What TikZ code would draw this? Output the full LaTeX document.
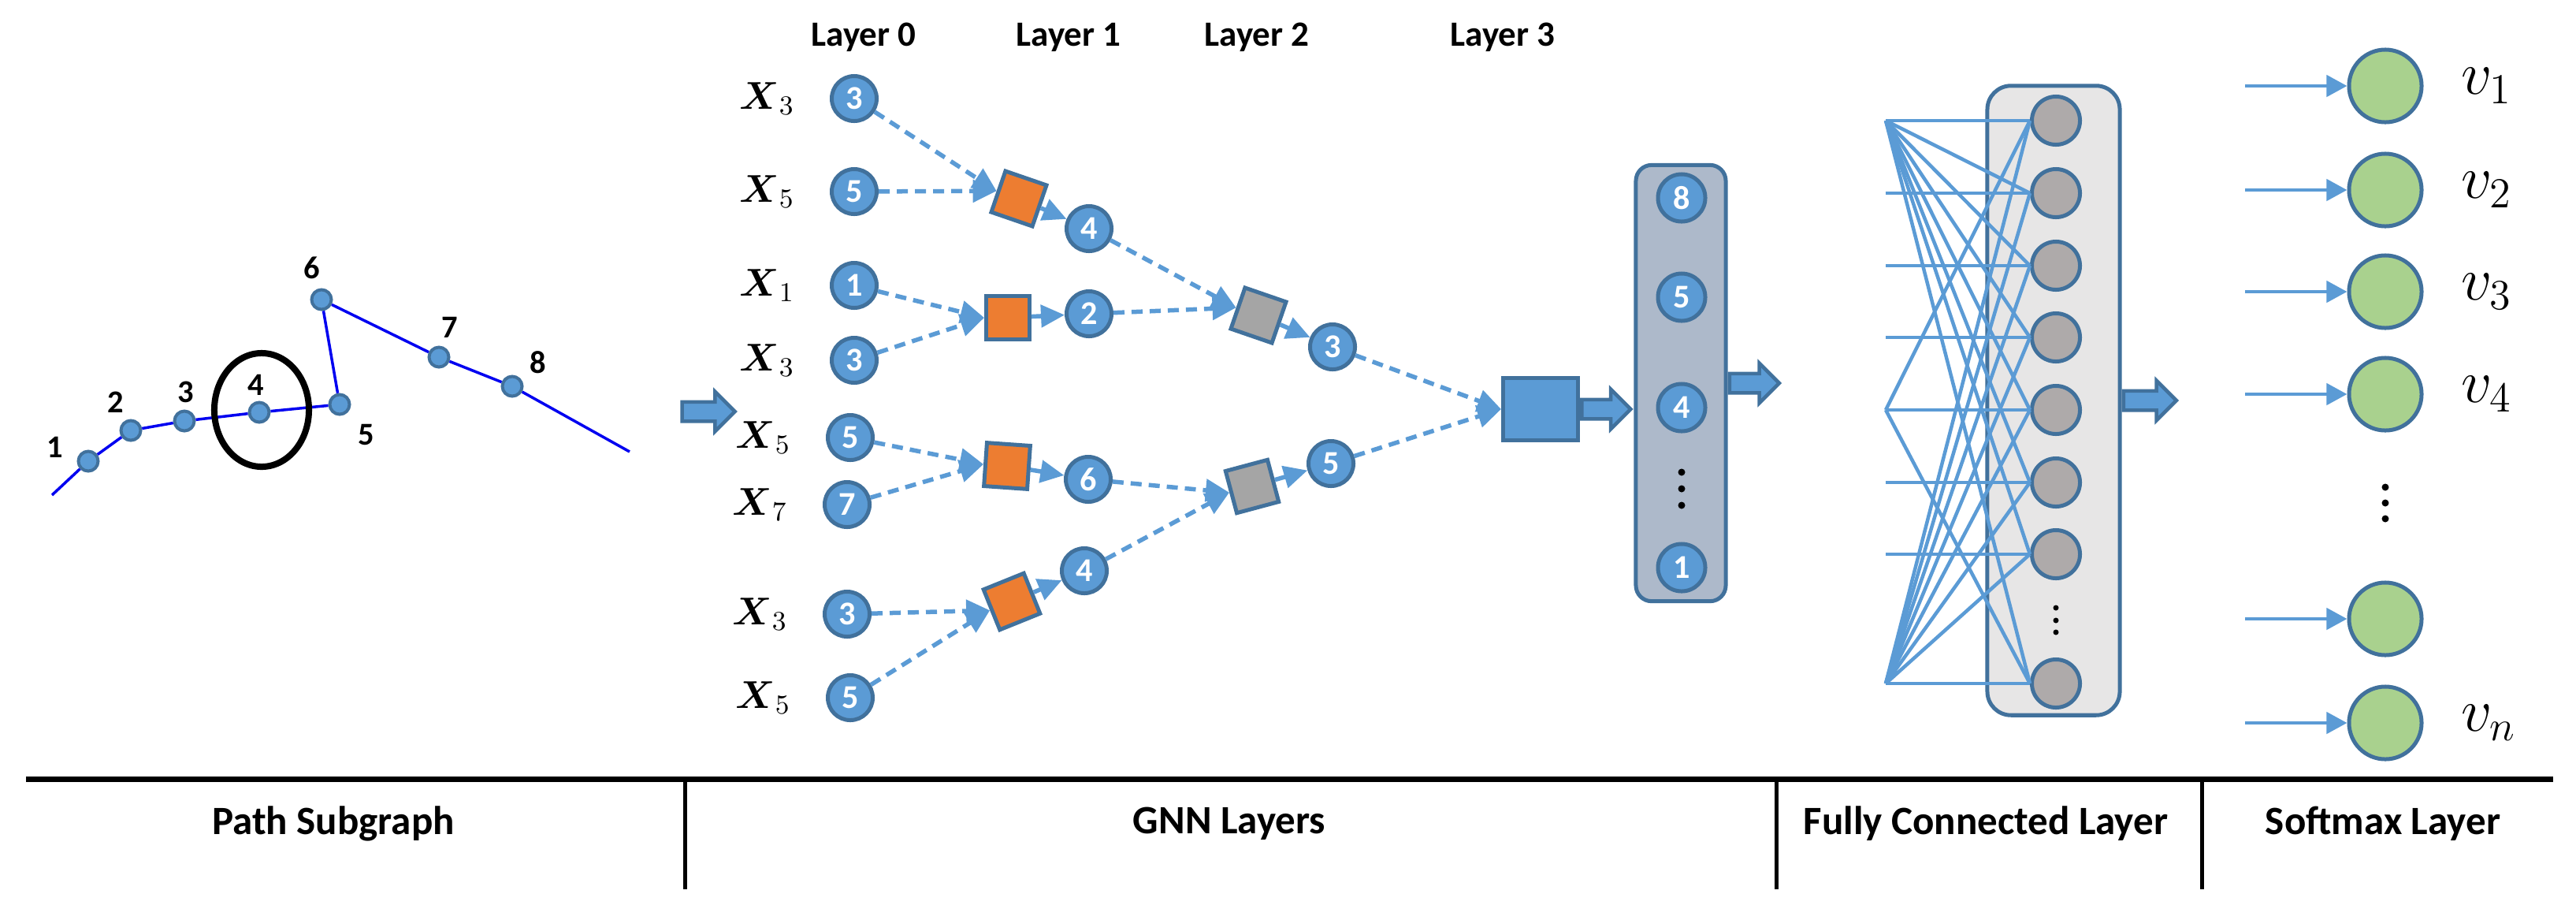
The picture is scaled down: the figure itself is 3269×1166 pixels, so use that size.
\RequirePackage{fix-cm}
\documentclass[tikz,border=0pt]{standalone}
\usepackage{amsmath}
\usepackage[no-math]{fontspec}
\setmainfont{Carlito}
\usetikzlibrary{arrows.meta,shapes.arrows,positioning}
\definecolor{nblue}{HTML}{5B9BD5}
\definecolor{nedge}{HTML}{41719C}
\definecolor{norange}{HTML}{ED7D31}
\definecolor{ngray}{HTML}{A5A5A5}
\definecolor{fcgray}{HTML}{AEAAAA}
\definecolor{colfill}{HTML}{ADB9CA}
\definecolor{fcfill}{HTML}{E7E6E6}
\definecolor{ngreen}{HTML}{A9D18E}
\definecolor{pathblue}{HTML}{0000F0}

\begin{document}
\begin{tikzpicture}[x=0.01cm, y=-0.01cm,
            num/.style={circle, draw=nedge, fill=nblue, line width=0.05cm, minimum size=0.57cm, inner sep=0pt, text=white, font=\fontsize{12}{14}\selectfont\bfseries},
            pnode/.style={circle, draw=nedge, fill=nblue, line width=0.04cm, minimum size=0.25cm, inner sep=0pt},
            plabel/.style={font=\fontsize{11.5}{13}\selectfont\bfseries},
            agg/.style={rectangle, draw=nedge, line width=0.05cm, minimum size=0.55cm, inner sep=0pt},
            xlab/.style={inner sep=0pt, font=\fontsize{14}{16}\selectfont},
            vlab/.style={inner sep=0pt, font=\fontsize{22}{26}\selectfont},
            layertext/.style={font=\fontsize{12.8}{15}\selectfont\bfseries},
            captext/.style={font=\fontsize{14.5}{17}\selectfont\bfseries},
            dflow/.style={->, >={Triangle[length=0.3cm, width=0.28cm]}, draw=nblue, line width=0.055cm, dash pattern=on 0.14cm off 0.09cm},
            sflow/.style={->, >={Triangle[length=0.26cm, width=0.27cm]}, draw=nblue, line width=0.045cm},
            fcline/.style={draw=nblue, line width=0.045cm},
            blockarr/.style={single arrow, draw=nedge, fill=nblue, line width=0.045cm, text height=0.2cm, text depth=0pt, minimum width=0.5cm, single arrow head extend=0.13cm, inner sep=0pt},
            dotn/.style={circle, fill=black, minimum size=0.09cm, inner sep=0pt}]
            \useasboundingbox (0,0) rectangle (3269,1166);

            \node[pnode] (p1) at (112,585) {};
            \node[pnode] (p2) at (166,546) {};
            \node[pnode] (p3) at (234,534) {};
            \node[pnode] (p4) at (329,523) {};
            \node[pnode] (p5) at (431,513) {};
            \node[pnode] (p6) at (408,380) {};
            \node[pnode] (p7) at (557,453) {};
            \node[pnode] (p8) at (650,490) {};
            \coordinate (pstart) at (66,628);
            \coordinate (pend) at (799,573);
            \draw[pathblue, line width=0.035cm] (pstart) -- (p1) -- (p2) -- (p3) -- (p4) -- (p5) -- (p6) -- (p7) -- (p8) -- (pend);
            \draw[line width=0.08cm] (332,520) ellipse [x radius=0.6cm, y radius=0.72cm];
            \node[plabel] (n1) at (70,567) {1};
            \node[plabel] (n2) at (147,510) {2};
            \node[plabel] (n3) at (236,497) {3};
            \node[plabel] (n4) at (325,488) {4};
            \node[plabel] (n5) at (465,552) {5};
            \node[plabel] (n6) at (396,340) {6};
            \node[plabel] (n7) at (571,415) {7};
            \node[plabel] (n8) at (683,460) {8};
            \node[blockarr, minimum height=0.67cm] (parr) at (893,522) {};

            \node[layertext] (lay0) at (1096,47) {Layer 0};
            \node[layertext] (lay1) at (1356,47) {Layer 1};
            \node[layertext] (lay2) at (1595,47) {Layer 2};
            \node[layertext] (lay3) at (1907,47) {Layer 3};

            \node[num] (a1) at (1084,125) {3};
            \node[num] (a2) at (1084,243) {5};
            \node[num] (a3) at (1084,362) {1};
            \node[num] (a4) at (1084,457) {3};
            \node[num] (a5) at (1079,555) {5};
            \node[num] (a6) at (1075,640) {7};
            \node[num] (a7) at (1075,779) {3};
            \node[num] (a8) at (1079,885) {5};
            \node[xlab, left=0.44cm of a1] (x1) {$\boldsymbol{X}_3$};
            \node[xlab, left=0.44cm of a2] (x2) {$\boldsymbol{X}_5$};
            \node[xlab, left=0.44cm of a3] (x3) {$\boldsymbol{X}_1$};
            \node[xlab, left=0.44cm of a4] (x4) {$\boldsymbol{X}_3$};
            \node[xlab, left=0.44cm of a5] (x5) {$\boldsymbol{X}_5$};
            \node[xlab, left=0.44cm of a6] (x6) {$\boldsymbol{X}_7$};
            \node[xlab, left=0.44cm of a7] (x7) {$\boldsymbol{X}_3$};
            \node[xlab, left=0.44cm of a8] (x8) {$\boldsymbol{X}_5$};

            \node[agg, fill=norange, rotate=-19] (g1) at (1293,252) {};
            \node[agg, fill=norange] (g2) at (1279,403) {};
            \node[agg, fill=ngray, rotate=-19] (g3) at (1597,400) {};
            \node[agg, fill=norange, rotate=-4] (g4) at (1278,591) {};
            \node[agg, fill=ngray, rotate=15] (g5) at (1589,617) {};
            \node[agg, fill=norange, rotate=22] (g6) at (1284,763) {};

            \node[num] (b1) at (1382,290) {4};
            \node[num] (b2) at (1382,398) {2};
            \node[num] (b3) at (1381,608) {6};
            \node[num] (b4) at (1376,724) {4};
            \node[num] (c1) at (1691,440) {3};
            \node[num] (c2) at (1689,588) {5};
            \node[draw=nedge, fill=nblue, line width=0.05cm, minimum width=0.95cm, minimum height=0.79cm] (out) at (1955,519) {};

            \draw[dflow] (a1) -- (g1.west);
            \draw[dflow] (a2) -- (g1.west);
            \draw[dflow] (g1) -- (b1);
            \draw[dflow] (a3) -- (g2.west);
            \draw[dflow] (a4) -- (g2.west);
            \draw[dflow] (g2) -- (b2);
            \draw[dflow] (b1) -- (g3.west);
            \draw[dflow] (b2) -- (g3.west);
            \draw[dflow] (g3) -- (c1);
            \draw[dflow] (a5) -- (g4.west);
            \draw[dflow] (a6) -- (g4.west);
            \draw[dflow] (g4) -- (b3);
            \draw[dflow] (b3) -- (g5.west);
            \draw[dflow] (b4) -- (g5.west);
            \draw[dflow] (g5) -- (c2);
            \draw[dflow] (a7) -- (g6.west);
            \draw[dflow] (a8) -- (g6.west);
            \draw[dflow] (g6) -- (b4);
            \draw[dflow] (c1) -- (out.west);
            \draw[dflow] (c2) -- (out.west);

            \node[blockarr, minimum height=0.62cm, anchor=west] (oarr) at (out.east) {};
            \node[draw=nedge, fill=colfill, line width=0.05cm, rounded corners=0.2cm, minimum width=1.14cm, minimum height=5.53cm] (col) at (2133,486) {};
            \node[num, minimum size=0.6cm] (e8) at (2134,251) {8};
            \node[num, minimum size=0.6cm] (e5) at (2134,377) {5};
            \node[num, minimum size=0.6cm] (e4) at (2134,517) {4};
            \node[num, minimum size=0.6cm] (e1) at (2134,720) {1};
            \node[dotn] (ed1) at (2134,599) {};
            \node[dotn] (ed2) at (2134,620) {};
            \node[dotn] (ed3) at (2134,641) {};
            \node[blockarr, minimum height=0.63cm, anchor=west] (carr) at (col.east) {};

            \node[draw=nedge, fill=fcfill, line width=0.05cm, rounded corners=0.3cm, minimum width=1.68cm, minimum height=7.98cm] (fc) at (2606,508) {};
            \foreach \i/\y in {1/153,2/245,3/337,4/428,5/520,6/612,7/703,8/867} {
                \node[circle, draw=nedge, fill=fcgray, line width=0.05cm, minimum size=0.61cm] (f\i) at (2609,\y) {};
                \coordinate (h\i) at (2393,\y);
                \draw[fcline] (h\i) -- (f\i.west);
            }
            \foreach \j in {2,...,8} \draw[fcline] (h1) -- (f\j.west);
            \foreach \j in {1,...,7} \draw[fcline] (h8) -- (f\j.west);
            \draw[fcline] (h5) -- (f1.west);
            \draw[fcline] (h5) -- (f8.west);
            \node[dotn, minimum size=0.07cm] (fd1) at (2609,771) {};
            \node[dotn, minimum size=0.07cm] (fd2) at (2609,787) {};
            \node[dotn, minimum size=0.07cm] (fd3) at (2609,802) {};
            \node[blockarr, minimum height=0.67cm, anchor=west] (farr) at (fc.east) {};

            \foreach \i/\y in {1/109,2/241,3/370,4/500,5/785,6/917} {
                \node[circle, draw=nedge, fill=ngreen, line width=0.05cm, minimum size=0.92cm] (s\i) at (3027,\y) {};
                \coordinate (sin\i) at (2849,\y);
                \draw[sflow] (sin\i) -- (s\i);
            }
            \node[dotn] (sd1) at (3027,618) {};
            \node[dotn] (sd2) at (3027,638) {};
            \node[dotn] (sd3) at (3027,658) {};
            \node[vlab, right=0.47cm of s1] (v1) {$v_1$};
            \node[vlab, right=0.47cm of s2] (v2) {$v_2$};
            \node[vlab, right=0.47cm of s3] (v3) {$v_3$};
            \node[vlab, right=0.47cm of s4] (v4) {$v_4$};
            \node[vlab, right=0.47cm of s6] (vn) {$v_n$};

            \draw[line width=0.07cm] (33,988) -- (3240,988);
            \draw[line width=0.05cm] (869,988) -- (869,1128);
            \draw[line width=0.05cm] (2254,988) -- (2254,1128);
            \draw[line width=0.05cm] (2794,988) -- (2794,1128);
            \node[captext] (t1) at (423,1045) {Path Subgraph};
            \node[captext] (t2) at (1560,1045) {GNN Layers};
            \node[captext] (t3) at (2520,1045) {Fully Connected Layer};
            \node[captext] (t4) at (3024,1045) {Softmax Layer};
        \end{tikzpicture}
\end{document}
